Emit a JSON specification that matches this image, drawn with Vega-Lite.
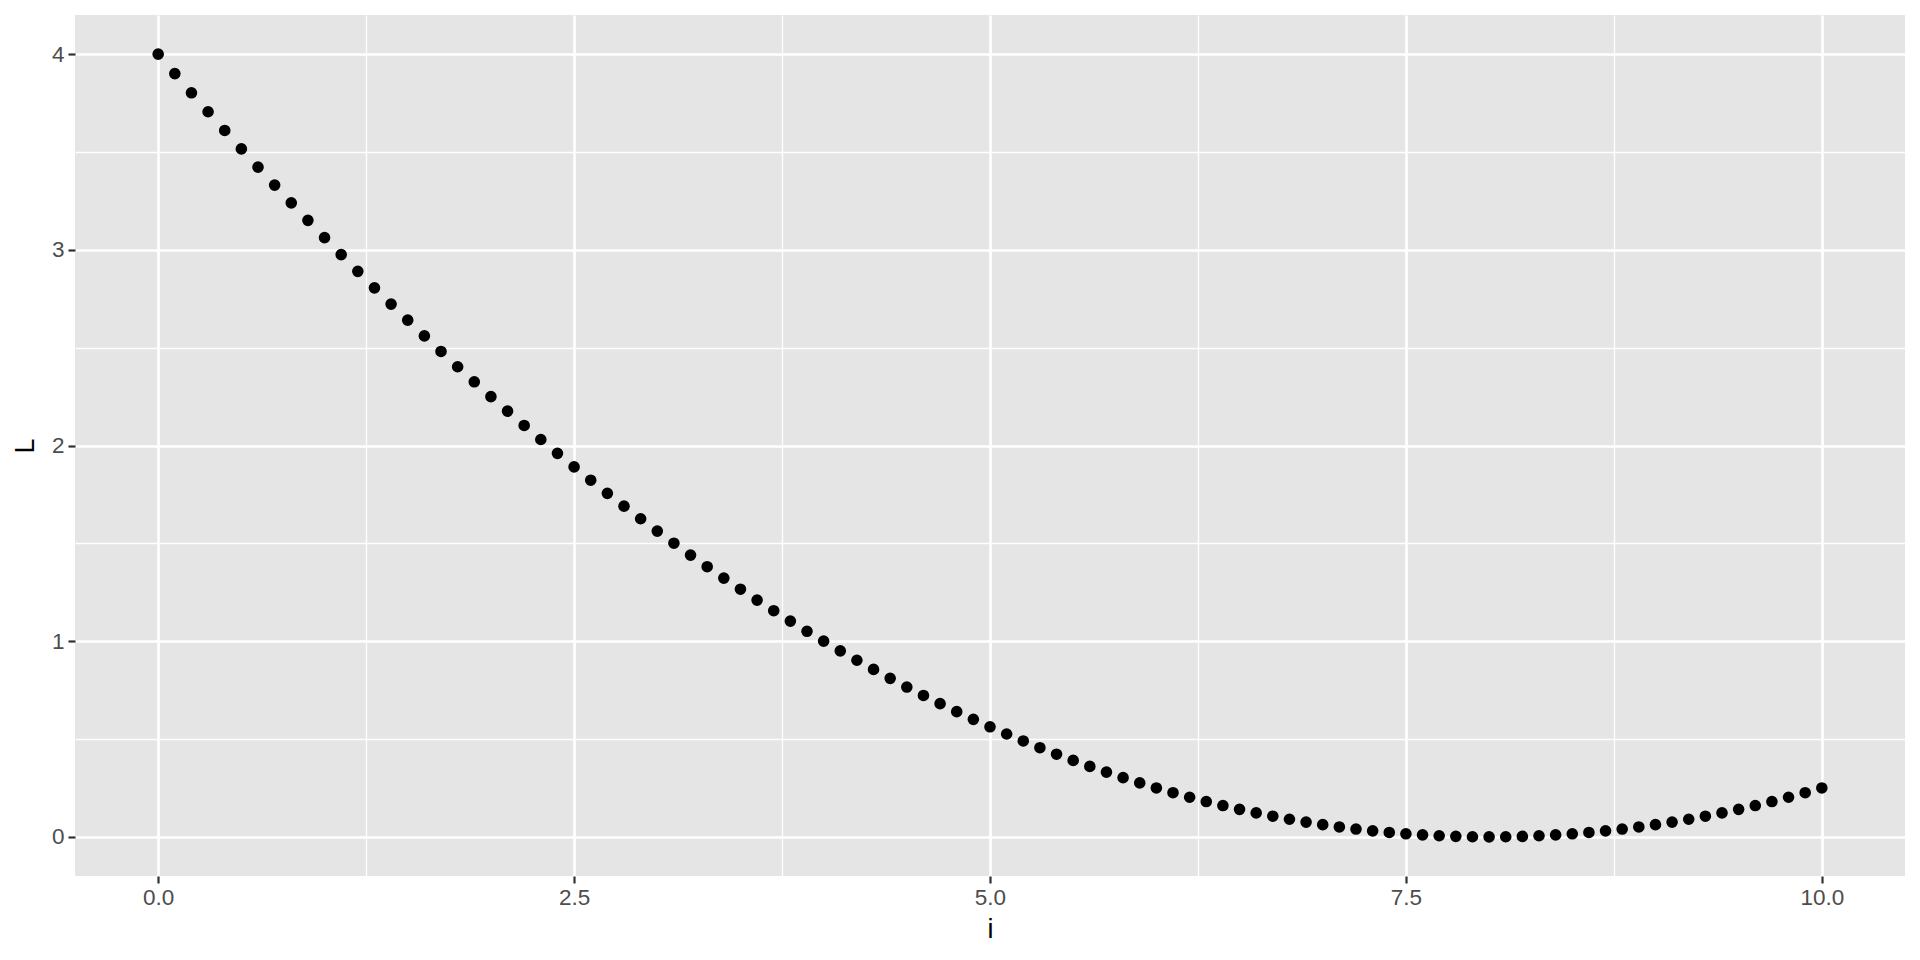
{
  "$schema": "https://vega.github.io/schema/vega-lite/v6.json",
  "width": 1830,
  "height": 861,
  "autosize": {"type": "none"},
  "padding": {"left": 75, "top": 15, "right": 15, "bottom": 84},
  "background": "white",
  "config": {
    "view": {"fill": "#E5E5E5", "stroke": null},
    "axis": {
      "domain": false,
      "gridColor": "white",
      "tickColor": "#333333",
      "tickWidth": 2.2,
      "tickSize": 7,
      "labelColor": "#4D4D4D",
      "labelFont": "Liberation Sans",
      "labelFontSize": 22.5,
      "titleFont": "Liberation Sans",
      "titleFontSize": 27,
      "titleFontWeight": "normal",
      "titleColor": "black"
    }
  },
  "data": {
    "values": [
      {"i": 0.0, "L": 4.0}, {"i": 0.1, "L": 3.900625}, {"i": 0.2, "L": 3.8025}, {"i": 0.3, "L": 3.705625}, {"i": 0.4, "L": 3.61},
      {"i": 0.5, "L": 3.515625}, {"i": 0.6, "L": 3.4225}, {"i": 0.7, "L": 3.330625}, {"i": 0.8, "L": 3.24}, {"i": 0.9, "L": 3.150625},
      {"i": 1.0, "L": 3.0625}, {"i": 1.1, "L": 2.975625}, {"i": 1.2, "L": 2.89}, {"i": 1.3, "L": 2.805625}, {"i": 1.4, "L": 2.7225},
      {"i": 1.5, "L": 2.640625}, {"i": 1.6, "L": 2.56}, {"i": 1.7, "L": 2.480625}, {"i": 1.8, "L": 2.4025}, {"i": 1.9, "L": 2.325625},
      {"i": 2.0, "L": 2.25}, {"i": 2.1, "L": 2.175625}, {"i": 2.2, "L": 2.1025}, {"i": 2.3, "L": 2.030625}, {"i": 2.4, "L": 1.96},
      {"i": 2.5, "L": 1.890625}, {"i": 2.6, "L": 1.8225}, {"i": 2.7, "L": 1.755625}, {"i": 2.8, "L": 1.69}, {"i": 2.9, "L": 1.625625},
      {"i": 3.0, "L": 1.5625}, {"i": 3.1, "L": 1.500625}, {"i": 3.2, "L": 1.44}, {"i": 3.3, "L": 1.380625}, {"i": 3.4, "L": 1.3225},
      {"i": 3.5, "L": 1.265625}, {"i": 3.6, "L": 1.21}, {"i": 3.7, "L": 1.155625}, {"i": 3.8, "L": 1.1025}, {"i": 3.9, "L": 1.050625},
      {"i": 4.0, "L": 1.0}, {"i": 4.1, "L": 0.950625}, {"i": 4.2, "L": 0.9025}, {"i": 4.3, "L": 0.855625}, {"i": 4.4, "L": 0.81},
      {"i": 4.5, "L": 0.765625}, {"i": 4.6, "L": 0.7225}, {"i": 4.7, "L": 0.680625}, {"i": 4.8, "L": 0.64}, {"i": 4.9, "L": 0.600625},
      {"i": 5.0, "L": 0.5625}, {"i": 5.1, "L": 0.525625}, {"i": 5.2, "L": 0.49}, {"i": 5.3, "L": 0.455625}, {"i": 5.4, "L": 0.4225},
      {"i": 5.5, "L": 0.390625}, {"i": 5.6, "L": 0.36}, {"i": 5.7, "L": 0.330625}, {"i": 5.8, "L": 0.3025}, {"i": 5.9, "L": 0.275625},
      {"i": 6.0, "L": 0.25}, {"i": 6.1, "L": 0.225625}, {"i": 6.2, "L": 0.2025}, {"i": 6.3, "L": 0.180625}, {"i": 6.4, "L": 0.16},
      {"i": 6.5, "L": 0.140625}, {"i": 6.6, "L": 0.1225}, {"i": 6.7, "L": 0.105625}, {"i": 6.8, "L": 0.09}, {"i": 6.9, "L": 0.075625},
      {"i": 7.0, "L": 0.0625}, {"i": 7.1, "L": 0.050625}, {"i": 7.2, "L": 0.04}, {"i": 7.3, "L": 0.030625}, {"i": 7.4, "L": 0.0225},
      {"i": 7.5, "L": 0.015625}, {"i": 7.6, "L": 0.01}, {"i": 7.7, "L": 0.005625}, {"i": 7.8, "L": 0.0025}, {"i": 7.9, "L": 0.000625},
      {"i": 8.0, "L": 0.0}, {"i": 8.1, "L": 0.000625}, {"i": 8.2, "L": 0.0025}, {"i": 8.3, "L": 0.005625}, {"i": 8.4, "L": 0.01},
      {"i": 8.5, "L": 0.015625}, {"i": 8.6, "L": 0.0225}, {"i": 8.7, "L": 0.030625}, {"i": 8.8, "L": 0.04}, {"i": 8.9, "L": 0.050625},
      {"i": 9.0, "L": 0.0625}, {"i": 9.1, "L": 0.075625}, {"i": 9.2, "L": 0.09}, {"i": 9.3, "L": 0.105625}, {"i": 9.4, "L": 0.1225},
      {"i": 9.5, "L": 0.140625}, {"i": 9.6, "L": 0.16}, {"i": 9.7, "L": 0.180625}, {"i": 9.8, "L": 0.2025}, {"i": 9.9, "L": 0.225625},
      {"i": 10.0, "L": 0.25}
    ]
  },
  "layer": [
    {
      "mark": {"type": "point", "opacity": 0},
      "encoding": {
        "x": {
          "field": "i", "type": "quantitative",
          "scale": {"domain": [-0.5, 10.5], "nice": false, "zero": false},
          "axis": {"orient": "bottom", "values": [1.25, 3.75, 6.25, 8.75], "grid": true, "gridWidth": 1.3, "labels": false, "ticks": false, "title": null}
        },
        "y": {
          "field": "L", "type": "quantitative",
          "scale": {"domain": [-0.2, 4.2], "nice": false, "zero": false},
          "axis": {"orient": "left", "values": [0.5, 1.5, 2.5, 3.5], "grid": true, "gridWidth": 1.3, "labels": false, "ticks": false, "title": null}
        }
      }
    },
    {
      "mark": {"type": "point", "filled": true, "color": "black", "opacity": 1, "size": 135},
      "encoding": {
        "x": {
          "field": "i", "type": "quantitative",
          "axis": {"orient": "bottom", "values": [0, 2.5, 5, 7.5, 10], "format": ".1f", "grid": true, "gridWidth": 2.7, "labelPadding": 3, "title": "i", "titlePadding": 8}
        },
        "y": {
          "field": "L", "type": "quantitative",
          "axis": {"orient": "left", "values": [0, 1, 2, 3, 4], "format": "d", "grid": true, "gridWidth": 2.7, "labelPadding": 4, "title": "L", "titlePadding": 12}
        }
      }
    }
  ],
  "resolve": {"axis": {"x": "independent", "y": "independent"}}
}
